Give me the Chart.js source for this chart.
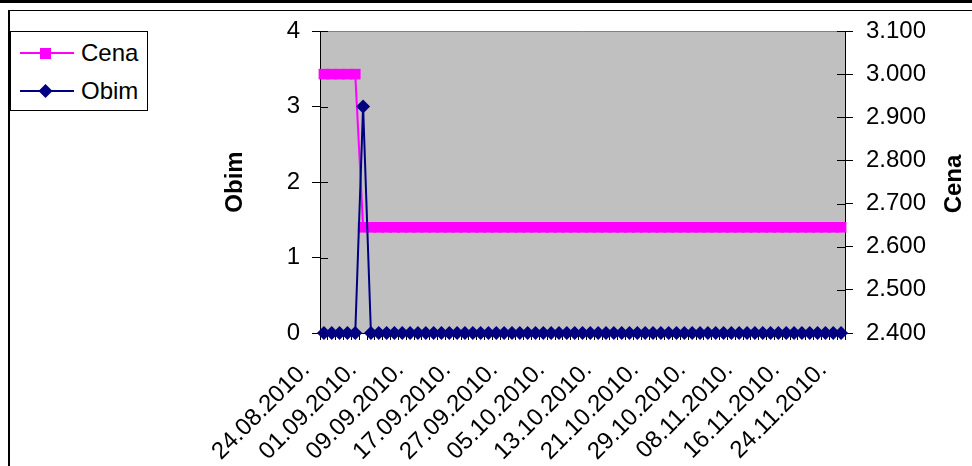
<!DOCTYPE html>
<html>
<head>
<meta charset="utf-8">
<script src="https://cdn.jsdelivr.net/npm/chart.js@4.4.1/dist/chart.umd.min.js"></script>
<style>
html,body{margin:0;padding:0;background:#fff;width:972px;height:466px;overflow:hidden;}
#wrap{position:relative;width:972px;height:466px;}
#c{position:absolute;left:0;top:0;}
#topbar{position:absolute;left:0;top:0;width:972px;height:3px;background:#000;}
#frame{position:absolute;left:8px;top:10px;width:990px;height:480px;border-top:1.5px solid #000;border-left:2px solid #000;}
#legend{position:absolute;left:10px;top:31px;width:136px;height:78px;border:1px solid #000;background:#fff;font-family:"Liberation Sans",Arial,sans-serif;font-size:24px;color:#000;}
#legend svg{position:absolute;left:0;top:0;}
#legend span{position:absolute;left:70px;line-height:28px;}
</style>
</head>
<body>
<div id="wrap">
  <div id="topbar"></div>
  <div id="frame"></div>
  <canvas id="c" width="972" height="466"></canvas>
  <div id="legend">
    <svg width="136" height="78" id="lsvg"></svg>
    <span id="l0" style="top:7px"></span>
    <span id="l1" style="top:45px"></span>
  </div>
</div>
<script>
// ---- data ----
const dates = [
  "24.08.2010.","25.08.2010.","26.08.2010.","27.08.2010.","30.08.2010.","31.08.2010.",
  "01.09.2010.","02.09.2010.","03.09.2010.","06.09.2010.","07.09.2010.","08.09.2010.",
  "09.09.2010.","10.09.2010.","13.09.2010.","14.09.2010.","15.09.2010.","16.09.2010.",
  "17.09.2010.","20.09.2010.","21.09.2010.","22.09.2010.","23.09.2010.","24.09.2010.",
  "27.09.2010.","28.09.2010.","29.09.2010.","30.09.2010.","01.10.2010.","04.10.2010.",
  "05.10.2010.","06.10.2010.","07.10.2010.","08.10.2010.","11.10.2010.","12.10.2010.",
  "13.10.2010.","14.10.2010.","15.10.2010.","18.10.2010.","19.10.2010.","20.10.2010.",
  "21.10.2010.","22.10.2010.","25.10.2010.","26.10.2010.","27.10.2010.","28.10.2010.",
  "29.10.2010.","01.11.2010.","02.11.2010.","03.11.2010.","04.11.2010.","05.11.2010.",
  "08.11.2010.","09.11.2010.","10.11.2010.","11.11.2010.","12.11.2010.","15.11.2010.",
  "16.11.2010.","17.11.2010.","18.11.2010.","19.11.2010.","22.11.2010.","23.11.2010.",
  "24.11.2010."
];
const obim = [
  0,0,0,0,0,3,
  0,0,0,0,0,0, 0,0,0,0,0,0, 0,0,0,0,0,0, 0,0,0,0,0,0,
  0,0,0,0,0,0, 0,0,0,0,0,0, 0,0,0,0,0,0, 0,0,0,0,0,0,
  0,0,0,0,0,0, 0,0,0,0,0,0, 0
];
const cena = [
  3000,3000,3000,3000,3000,2645,
  2645,2645,2645,2645,2645,2645, 2645,2645,2645,2645,2645,2645,
  2645,2645,2645,2645,2645,2645, 2645,2645,2645,2645,2645,2645,
  2645,2645,2645,2645,2645,2645, 2645,2645,2645,2645,2645,2645,
  2645,2645,2645,2645,2645,2645, 2645,2645,2645,2645,2645,2645,
  2645,2645,2645,2645,2645,2645, 2645,2645,2645,2645,2645,2645,
  2645
];
const obimAxis = {min: 0, max: 4, step: 1};
const cenaAxis = {min: 2400, max: 3100, step: 100};
const labelEvery = 6;

const MAGENTA = '#FF00FF', NAVY = '#000080';
const FONT = '"Liberation Sans", Arial, sans-serif';
Chart.defaults.font.family = FONT;
Chart.defaults.color = '#000';

function fmtThousands(v) {
  const n = Math.round(v);
  const th = Math.floor(n / 1000), r = n % 1000;
  return th > 0 ? th + '.' + String(r).padStart(3, '0') : String(r);
}

// legend (HTML)
(function(){
  const s = document.getElementById('lsvg');
  s.innerHTML =
    '<line x1="9" y1="21" x2="63" y2="21" stroke="' + MAGENTA + '" stroke-width="2"/>' +
    '<rect x="29" y="16" width="11" height="11" fill="' + MAGENTA + '"/>' +
    '<line x1="9" y1="59" x2="63" y2="59" stroke="' + NAVY + '" stroke-width="2"/>' +
    '<polygon points="34.5,52 41.5,59 34.5,66 27.5,59" fill="' + NAVY + '"/>';
  document.getElementById('l0').textContent = 'Cena';
  document.getElementById('l1').textContent = 'Obim';
})();

const plotBg = {
  id: 'plotBg',
  beforeDraw(chart) {
    const {ctx, chartArea: a} = chart;
    ctx.save();
    ctx.fillStyle = '#C0C0C0';
    ctx.fillRect(a.left, a.top, a.right - a.left, a.bottom - a.top);
    ctx.strokeStyle = '#808080';
    ctx.lineWidth = 1;
    ctx.beginPath();
    ctx.moveTo(a.left, a.top + 0.5);
    ctx.lineTo(a.right, a.top + 0.5);
    ctx.stroke();
    ctx.restore();
  },
  afterDraw(chart) {
    const {ctx, chartArea: a} = chart;
    ctx.save();
    ctx.strokeStyle = '#000';
    ctx.lineWidth = 1;
    // inward halves of the crossing ticks on both value axes
    const sy = chart.scales.y, sr = chart.scales.y1;
    ctx.beginPath();
    sy.ticks.forEach((t, i) => {
      const p = Math.round(sy.getPixelForTick(i)) + 0.5;
      ctx.moveTo(a.left, p); ctx.lineTo(a.left + 8, p);
    });
    sr.ticks.forEach((t, i) => {
      const p = Math.round(sr.getPixelForTick(i)) + 0.5;
      ctx.moveTo(a.right, p); ctx.lineTo(a.right - 8, p);
    });
    ctx.stroke();
    // right axis title, reading upwards
    ctx.fillStyle = '#000';
    ctx.font = 'bold 24px ' + FONT;
    ctx.textAlign = 'center';
    ctx.textBaseline = 'middle';
    ctx.translate(a.right + 109, (a.top + a.bottom) / 2 + 2);
    ctx.rotate(-Math.PI / 2);
    ctx.fillText('Cena', 0, 0);
    ctx.restore();
  }
};

new Chart(document.getElementById('c'), {
  type: 'line',
  data: {
    labels: dates,
    datasets: [
      {
        label: 'Obim', data: obim, yAxisID: 'y', order: 0,
        borderColor: NAVY, backgroundColor: NAVY, borderWidth: 2,
        pointStyle: 'rectRot', pointRadius: 7, pointBorderWidth: 0,
        pointBackgroundColor: NAVY, pointBorderColor: NAVY,
        tension: 0, clip: false, fill: false
      },
      {
        label: 'Cena', data: cena, yAxisID: 'y1', order: 1,
        borderColor: MAGENTA, backgroundColor: MAGENTA, borderWidth: 2,
        pointStyle: 'rect', pointRadius: 7.5, pointBorderWidth: 0,
        pointBackgroundColor: MAGENTA, pointBorderColor: MAGENTA,
        tension: 0, clip: false, fill: false
      }
    ]
  },
  options: {
    responsive: false,
    animation: false,
    events: [],
    layout: {padding: {top: 31, left: 0, right: 0, bottom: 0}},
    plugins: {legend: {display: false}, tooltip: {enabled: false}},
    scales: {
      x: {
        type: 'category',
        offset: true,
        grid: {display: true, drawOnChartArea: false, drawTicks: true, tickLength: 7, color: '#000', offset: true},
        border: {display: true, color: '#000', width: 1},
        ticks: {
          autoSkip: false, minRotation: 45, maxRotation: 45,
          padding: 16, labelOffset: -18,
          font: {size: 24}, color: '#000',
          callback: (v, i) => (i % labelEvery === 0 ? dates[i] : '')
        },
        afterFit: s => { s.height = 133; }
      },
      y: {
        position: 'left',
        min: obimAxis.min, max: obimAxis.max,
        grid: {display: true, drawOnChartArea: false, drawTicks: true, tickLength: 8, color: '#000'},
        border: {display: true, color: '#000', width: 1},
        ticks: {stepSize: obimAxis.step, padding: 12, font: {size: 24}, color: '#000'},
        title: {display: true, text: 'Obim', font: {size: 24, weight: 'bold'}, color: '#000', padding: {top: 221, bottom: 0}},
        afterFit: s => { s.width = 320; }
      },
      y1: {
        position: 'right',
        min: cenaAxis.min, max: cenaAxis.max,
        grid: {display: true, drawOnChartArea: false, drawTicks: true, tickLength: 8, color: '#000'},
        border: {display: true, color: '#000', width: 1},
        ticks: {stepSize: cenaAxis.step, padding: 13, font: {size: 24}, color: '#000', callback: v => fmtThousands(v)},
        afterFit: s => { s.width = 127; }
      }
    }
  },
  plugins: [plotBg]
});
</script>
</body>
</html>
